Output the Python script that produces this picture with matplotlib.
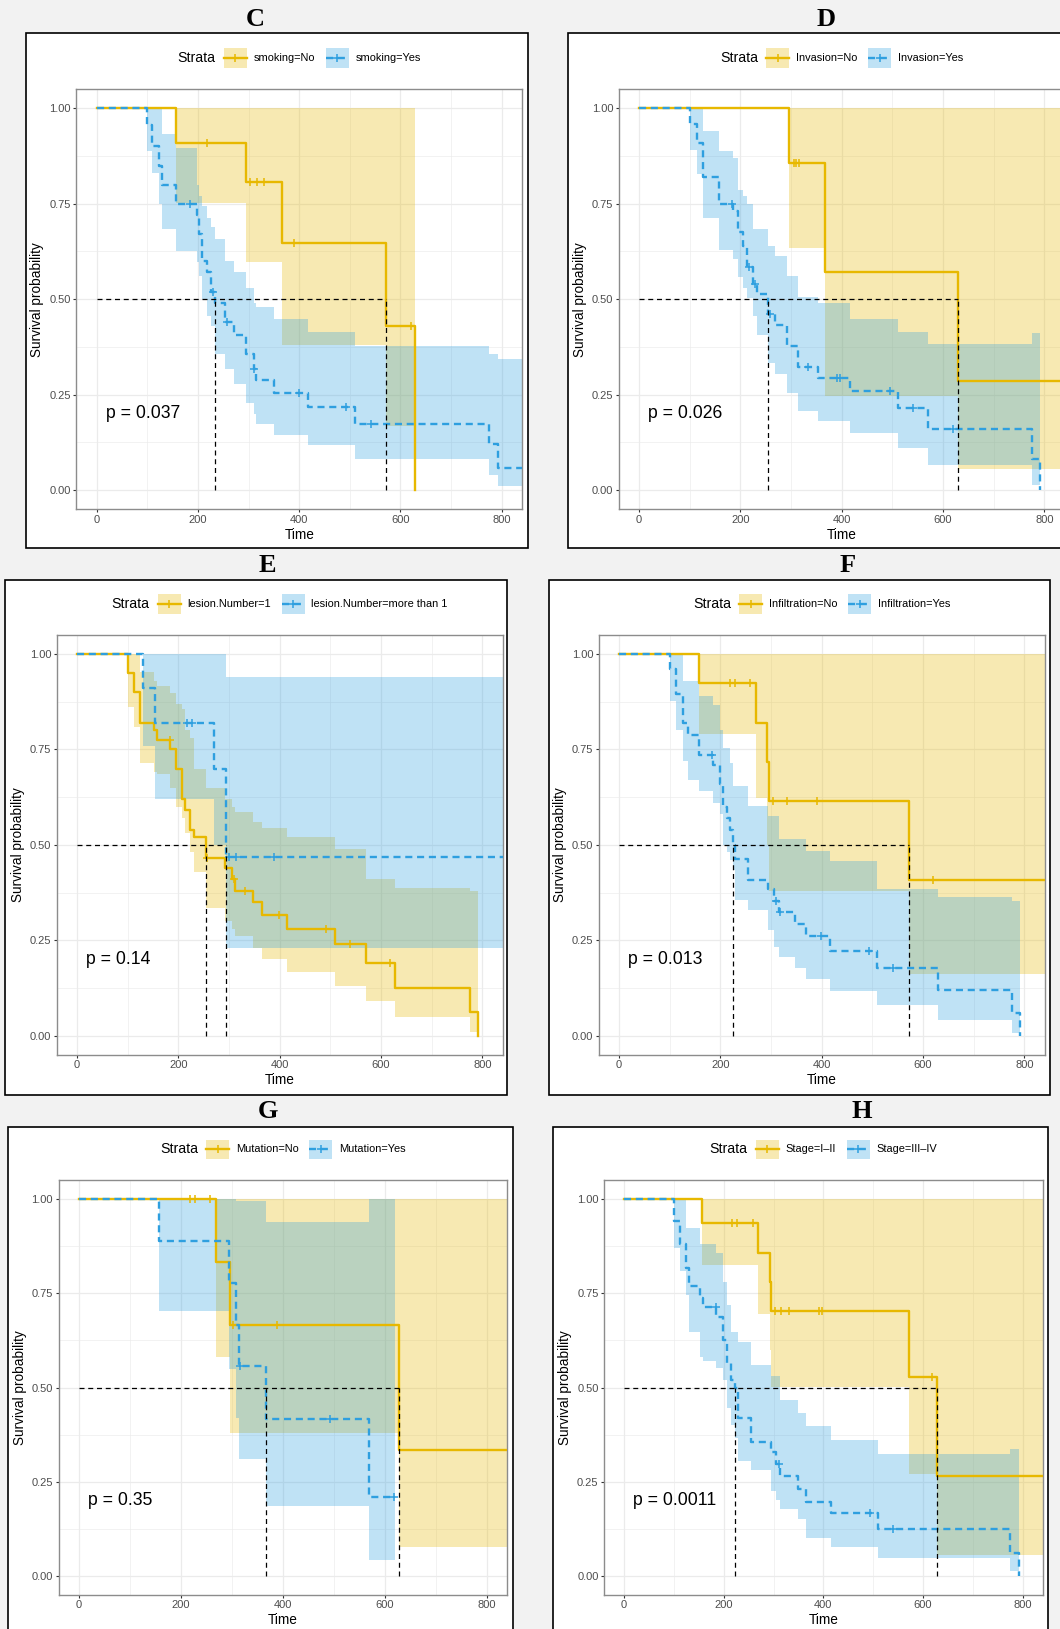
import numpy as np
import matplotlib
matplotlib.use("Agg")
import matplotlib.pyplot as plt
from matplotlib.patches import Rectangle
from matplotlib.lines import Line2D
from matplotlib.offsetbox import AnchoredOffsetbox, HPacker, TextArea, DrawingArea

plt.rcParams["font.family"] = ["Liberation Sans", "DejaVu Sans"]

# %%
# KAPLAN-MEIER DATA: STEP TIMES, SURVIVAL, CI, CENSOR TIMES

# C - smoking
c_no_time = [0, 157, 294, 367, 571, 628]
c_no_surv = [1, 0.909, 0.807, 0.646, 0.430, 0]
c_no_low = [1, 0.751, 0.598, 0.380, 0.167, 0]
c_no_up = [1, 1, 1, 1, 1, 0]
c_no_cens = [218, 302, 316, 331, 390, 621]
c_no_last = 628

c_yes_time = [0, 100, 110, 123, 128, 156, 199, 202, 208, 218, 225, 233, 254, 271, 294, 310, 314, 350, 417, 511, 774, 792]
c_yes_surv = [1, 0.955, 0.90, 0.85, 0.80, 0.75, 0.72, 0.67, 0.60, 0.57, 0.52, 0.49, 0.44, 0.405, 0.355, 0.318, 0.288, 0.254, 0.217, 0.174, 0.121, 0.057]
c_yes_low = [1, 0.887, 0.83, 0.75, 0.685, 0.626, 0.598, 0.56, 0.50, 0.456, 0.43, 0.355, 0.318, 0.277, 0.227, 0.20, 0.172, 0.144, 0.117, 0.082, 0.039, 0.011]
c_yes_up = [1, 1, 1, 1, 0.933, 0.896, 0.80, 0.77, 0.745, 0.713, 0.69, 0.658, 0.60, 0.57, 0.53, 0.49, 0.48, 0.447, 0.415, 0.378, 0.355, 0.344]
c_yes_cens = [184, 230, 258, 311, 399, 493, 542]
c_yes_last = 840

# D - invasion
d_no_time = [0, 296, 367, 629]
d_no_surv = [1, 0.857, 0.571, 0.286]
d_no_low = [1, 0.634, 0.245, 0.055]
d_no_up = [1, 1, 1, 1]
d_no_cens = [305, 310, 316]
d_no_last = 840

d_yes_time = [0, 101, 114, 127, 157, 185, 196, 206, 212.5, 226, 232, 255, 268, 293, 314, 354, 416, 512, 571, 775, 791]
d_yes_surv = [1, 0.96, 0.91, 0.82, 0.75, 0.73, 0.676, 0.64, 0.584, 0.54, 0.513, 0.46, 0.433, 0.378, 0.323, 0.294, 0.259, 0.215, 0.161, 0.08, 0]
d_yes_low = [1, 0.892, 0.828, 0.713, 0.63, 0.605, 0.557, 0.53, 0.502, 0.456, 0.405, 0.332, 0.305, 0.254, 0.208, 0.181, 0.149, 0.11, 0.066, 0.013, 0]
d_yes_up = [1, 1, 1, 0.94, 0.887, 0.869, 0.786, 0.77, 0.75, 0.685, 0.685, 0.64, 0.612, 0.561, 0.506, 0.49, 0.447, 0.415, 0.383, 0.412, 0]
d_yes_cens = [184, 218, 229, 258, 334, 390, 397, 495, 541, 620]
d_yes_last = 791

# E - lesion number
e_one_time = [0, 100, 112, 125, 151, 157, 184, 196, 207, 214, 224, 230, 254, 293, 306, 312, 348, 365, 414, 510, 571, 627, 775, 792]
e_one_surv = [1, 0.95, 0.90, 0.82, 0.80, 0.776, 0.75, 0.70, 0.62, 0.59, 0.54, 0.52, 0.466, 0.44, 0.41, 0.38, 0.35, 0.315, 0.28, 0.24, 0.19, 0.125, 0.062, 0]
e_one_low = [1, 0.86, 0.81, 0.715, 0.69, 0.686, 0.65, 0.60, 0.57, 0.53, 0.48, 0.43, 0.334, 0.30, 0.28, 0.26, 0.23, 0.20, 0.166, 0.13, 0.09, 0.05, 0.01, 0]
e_one_up = [1, 1, 1, 0.952, 0.93, 0.915, 0.897, 0.87, 0.855, 0.80, 0.78, 0.70, 0.65, 0.62, 0.60, 0.585, 0.56, 0.544, 0.52, 0.488, 0.41, 0.388, 0.38, 0]
e_one_cens = [183, 256, 310, 331, 398, 492, 538, 617]
e_one_last = 792

e_more_time = [0, 130, 154.5, 269.5, 294]
e_more_surv = [1, 0.91, 0.82, 0.70, 0.467]
e_more_low = [1, 0.76, 0.62, 0.50, 0.231]
e_more_up = [1, 1, 1, 1, 0.94]
e_more_cens = [217, 227, 301, 314, 388]
e_more_last = 840

# F - infiltration
f_no_time = [0, 157, 270, 293, 296, 572]
f_no_surv = [1, 0.923, 0.82, 0.718, 0.615, 0.409]
f_no_low = [1, 0.79, 0.622, 0.50, 0.378, 0.161]
f_no_up = [1, 1, 1, 1, 1, 1]
f_no_cens = [219, 229, 259, 303, 332, 391, 619]
f_no_last = 840

f_yes_time = [0, 101, 112.5, 127, 137, 157, 185, 199, 206, 212.5, 219, 226, 229, 255, 295, 305, 315, 347, 370, 416, 510, 629, 775, 791]
f_yes_surv = [1, 0.96, 0.896, 0.82, 0.788, 0.735, 0.71, 0.66, 0.60, 0.57, 0.539, 0.50, 0.464, 0.408, 0.384, 0.352, 0.324, 0.292, 0.26, 0.223, 0.178, 0.119, 0.059, 0]
f_yes_low = [1, 0.878, 0.80, 0.72, 0.67, 0.64, 0.61, 0.58, 0.50, 0.48, 0.46, 0.434, 0.356, 0.329, 0.278, 0.233, 0.205, 0.178, 0.148, 0.116, 0.0815, 0.04, 0.008, 0]
f_yes_up = [1, 1, 1, 0.93, 0.93, 0.89, 0.867, 0.80, 0.755, 0.755, 0.714, 0.654, 0.654, 0.603, 0.576, 0.576, 0.516, 0.516, 0.483, 0.457, 0.385, 0.363, 0.352, 0]
f_yes_cens = [184, 310, 318, 399, 494, 541]
f_yes_last = 791

# G - mutation
g_no_time = [0, 269, 295.4, 627]
g_no_surv = [1, 0.833, 0.667, 0.333]
g_no_low = [1, 0.582, 0.378, 0.075]
g_no_up = [1, 1, 1, 1]
g_no_cens = [218, 228, 257.5, 302, 389.5]
g_no_last = 840

g_yes_time = [0, 156, 293.5, 308.5, 313, 366.7, 570]
g_yes_surv = [1, 0.889, 0.778, 0.667, 0.556, 0.417, 0.208]
g_yes_low = [1, 0.704, 0.548, 0.42, 0.309, 0.186, 0.043]
g_yes_up = [1, 1, 1, 0.996, 0.996, 0.94, 1]
g_yes_cens = [315, 493, 619]
g_yes_last = 621

# H - stage
h_early_time = [0, 156.3, 269.8, 292.5, 294.5, 571, 627.7]
h_early_surv = [1, 0.937, 0.858, 0.78, 0.7025, 0.527, 0.264]
h_early_low = [1, 0.825, 0.696, 0.60, 0.50, 0.27, 0.0555]
h_early_up = [1, 1, 1, 1, 1, 1, 1]
h_early_cens = [217.7, 227.7, 259, 302.5, 315.9, 331.2, 391.3, 398, 618]
h_early_last = 840

h_late_time = [0, 100, 112, 124, 131, 152, 159, 185.6, 199, 205.7, 215.7, 222.4, 229, 255.8, 295.8, 305.8, 312.5, 349, 366, 416, 509.5, 775, 792]
h_late_surv = [1, 0.943, 0.88, 0.817, 0.77, 0.737, 0.714, 0.687, 0.625, 0.566, 0.521, 0.499, 0.418, 0.356, 0.329, 0.297, 0.266, 0.23, 0.197, 0.166, 0.125, 0.06, 0]
h_late_low = [1, 0.87, 0.81, 0.745, 0.647, 0.58, 0.57, 0.553, 0.52, 0.445, 0.40, 0.365, 0.306, 0.28, 0.226, 0.20, 0.176, 0.15, 0.10, 0.075, 0.047, 0.0125, 0]
h_late_up = [1, 1, 1, 0.925, 0.925, 0.88, 0.88, 0.857, 0.78, 0.72, 0.647, 0.647, 0.62, 0.56, 0.53, 0.53, 0.468, 0.432, 0.398, 0.36, 0.324, 0.336, 0]
h_late_cens = [183.6, 311, 493, 539.6]
h_late_last = 792

panel_letters = ["C", "D", "E", "F", "G", "H"]
pvalues = ["p = 0.037", "p = 0.026", "p = 0.14", "p = 0.013", "p = 0.35", "p = 0.0011"]
strata_labels = [
    ["smoking=No", "smoking=Yes"],
    ["Invasion=No", "Invasion=Yes"],
    ["lesion.Number=1", "lesion.Number=more than 1"],
    ["Infiltration=No", "Infiltration=Yes"],
    ["Mutation=No", "Mutation=Yes"],
    ["Stage=I\u2013II", "Stage=III\u2013IV"],
]

curves = [
    [(c_no_time, c_no_surv, c_no_low, c_no_up, c_no_cens, c_no_last),
     (c_yes_time, c_yes_surv, c_yes_low, c_yes_up, c_yes_cens, c_yes_last)],
    [(d_no_time, d_no_surv, d_no_low, d_no_up, d_no_cens, d_no_last),
     (d_yes_time, d_yes_surv, d_yes_low, d_yes_up, d_yes_cens, d_yes_last)],
    [(e_one_time, e_one_surv, e_one_low, e_one_up, e_one_cens, e_one_last),
     (e_more_time, e_more_surv, e_more_low, e_more_up, e_more_cens, e_more_last)],
    [(f_no_time, f_no_surv, f_no_low, f_no_up, f_no_cens, f_no_last),
     (f_yes_time, f_yes_surv, f_yes_low, f_yes_up, f_yes_cens, f_yes_last)],
    [(g_no_time, g_no_surv, g_no_low, g_no_up, g_no_cens, g_no_last),
     (g_yes_time, g_yes_surv, g_yes_low, g_yes_up, g_yes_cens, g_yes_last)],
    [(h_early_time, h_early_surv, h_early_low, h_early_up, h_early_cens, h_early_last),
     (h_late_time, h_late_surv, h_late_low, h_late_up, h_late_cens, h_late_last)],
]

# %%
# LAYOUT (PIXELS OF THE 1060x1629 PICTURE)

W, H = 1060, 1629
YELLOW = "#E7B800"
BLUE = "#2E9FDF"
STYLES = [(YELLOW, "-"), (BLUE, (0, (3, 2)))]

# pixel of x=0, x=800, y=1, y=0 for every panel
axis_px = [
    (96.7, 501.7, 108.3, 490.0),
    (639.0, 1044.3, 108.3, 490.0),
    (77.0, 482.3, 654.0, 1035.7),
    (619.0, 1024.3, 654.0, 1035.7),
    (79.0, 486.7, 1199.3, 1575.7),
    (624.0, 1022.7, 1199.3, 1575.7),
]
# white boxes: left, top, right, bottom
box_px = [
    (26, 33, 527.5, 548),
    (568, 33, 1075, 548),
    (5, 580, 507, 1095),
    (548.5, 580, 1050, 1095),
    (7.5, 1127, 513, 1640),
    (553, 1127, 1048, 1640),
]
title_px = [(255, 19), (826, 19), (267, 565), (848, 565), (268, 1112), (862, 1112)]


def fx(x):
    return x / W


def fy(y):
    return 1 - y / H


def step_value(time, surv, t):
    i = np.searchsorted(time, t, side="right") - 1
    return surv[i]


def median_time(time, surv):
    for t, s in zip(time, surv):
        if s <= 0.5:
            return t
    return None


def draw_curve(ax, time, surv, low, up, cens, last, color, ls):
    time, surv, low, up = list(time), list(surv), list(low), list(up)
    if surv[-1] == 0:
        band_t = time
        band_lo = low[:-1] + [low[-2]]
        band_hi = up[:-1] + [up[-2]]
        line_t = time + [time[-1]]
    else:
        band_t = time + [last]
        band_lo = low + [low[-1]]
        band_hi = up + [up[-1]]
        line_t = time + [last]
    line_s = surv + [surv[-1]]
    ax.fill_between(band_t, band_lo, band_hi, step="post", color=color,
                    alpha=0.3, lw=0, zorder=1)
    ax.plot(line_t, line_s, drawstyle="steps-post", color=color, lw=1.7,
            ls=ls, zorder=3)
    cy = [step_value(time, surv, c) for c in cens]
    ax.plot(cens, cy, ls="none", marker="+", ms=6, mew=1.1, color=color,
            zorder=3)


def spacer(w):
    return DrawingArea(w, 1, 0, 0)


def add_legend(cx, cy, labels):
    items = [TextArea("Strata", textprops=dict(fontsize=10.2, color="black")),
             spacer(5.8)]
    for k, (lab, (color, ls)) in enumerate(zip(labels, STYLES)):
        kw, kh = 16.5, 14
        key = DrawingArea(kw, kh, 0, 0)
        key.add_artist(Rectangle((0, 0), kw, kh, fc=color, alpha=0.3, lw=0))
        key.add_artist(Line2D([0, kw], [kh / 2, kh / 2], color=color, lw=1.7, ls=ls))
        key.add_artist(Line2D([kw / 2], [kh / 2], marker="+", ms=6, mew=1.1,
                              color=color))
        items += [key, spacer(4.8),
                  TextArea(lab, textprops=dict(fontsize=7.9, color="black"))]
        if k == 0:
            items.append(spacer(7.9))
    box = HPacker(children=items, align="center", pad=0, sep=0)
    anchored = AnchoredOffsetbox(loc="center", child=box, pad=0, borderpad=0,
                                 frameon=False, bbox_to_anchor=(cx, cy),
                                 bbox_transform=fig.transFigure)
    fig.add_artist(anchored)


# %%
# PLOTTING THE SIX KAPLAN-MEIER PANELS

fig = plt.figure(figsize=(W / 100, H / 100), dpi=100, facecolor="#f2f2f2")

for i in range(6):
    bl, bt, br, bb = box_px[i]
    fig.add_artist(Rectangle((fx(bl), fy(bb)), (br - bl) / W, (bb - bt) / H,
                             transform=fig.transFigure, fc="white", ec="black",
                             lw=1.2, zorder=-1))
    tx, ty = title_px[i]
    fig.text(fx(tx), fy(ty), panel_letters[i], ha="center", va="center",
             fontsize=19, fontweight="bold", family="Liberation Serif")

    x0, x800, y1, y0 = axis_px[i]
    sx = (x800 - x0) / 800
    left, right = x0 - 40 * sx, x800 + 40 * sx
    sy = y0 - y1
    top, bottom = y1 - 0.05 * sy, y0 + 0.05 * sy
    ax = fig.add_axes([fx(left), fy(bottom), (right - left) / W, (bottom - top) / H])

    medians = []
    for (time, surv, low, up, cens, last), (color, ls) in zip(curves[i], STYLES):
        draw_curve(ax, time, surv, low, up, cens, last, color, ls)
        medians.append(median_time(time, surv))

    medians = [m for m in medians if m is not None]
    ax.plot([0, max(medians)], [0.5, 0.5], color="black", lw=0.9,
            ls=(0, (4, 3)), zorder=4)
    for m in medians:
        ax.plot([m, m], [0, 0.5], color="black", lw=0.9, ls=(0, (4, 3)), zorder=4)

    ax.text(18, 0.2, pvalues[i], fontsize=12.7, ha="left", va="center", zorder=5)

    ax.set_xlim(-40, 840)
    ax.set_ylim(-0.05, 1.05)
    ax.set_xticks([0, 200, 400, 600, 800])
    ax.set_xticks([100, 300, 500, 700], minor=True)
    ax.set_yticks([0, 0.25, 0.5, 0.75, 1.0])
    ax.set_yticklabels(["0.00", "0.25", "0.50", "0.75", "1.00"])
    ax.set_yticks([0.125, 0.375, 0.625, 0.875], minor=True)
    ax.grid(which="major", color="#ebebeb", lw=0.9)
    ax.grid(which="minor", color="#ebebeb", lw=0.45)
    ax.set_axisbelow(True)
    ax.tick_params(which="minor", length=0)
    ax.tick_params(which="major", length=2.5, width=0.8, color="#333333",
                   labelcolor="#4d4d4d", labelsize=8, pad=1.5)
    for sp in ax.spines.values():
        sp.set_color("#8c8c8c")
        sp.set_linewidth(1.0)

    aw, ah = right - left, bottom - top
    ax.text(-39 / aw, 0.5, "Survival probability", transform=ax.transAxes,
            rotation=90, ha="center", va="center", fontsize=9.8)
    ax.text(0.5, -25.5 / ah, "Time", transform=ax.transAxes, ha="center",
            va="center", fontsize=9.8)

    add_legend(fx((left + right) / 2), fy(top - 31), strata_labels[i])

fig.savefig("out.png", dpi=100, facecolor=fig.get_facecolor())
